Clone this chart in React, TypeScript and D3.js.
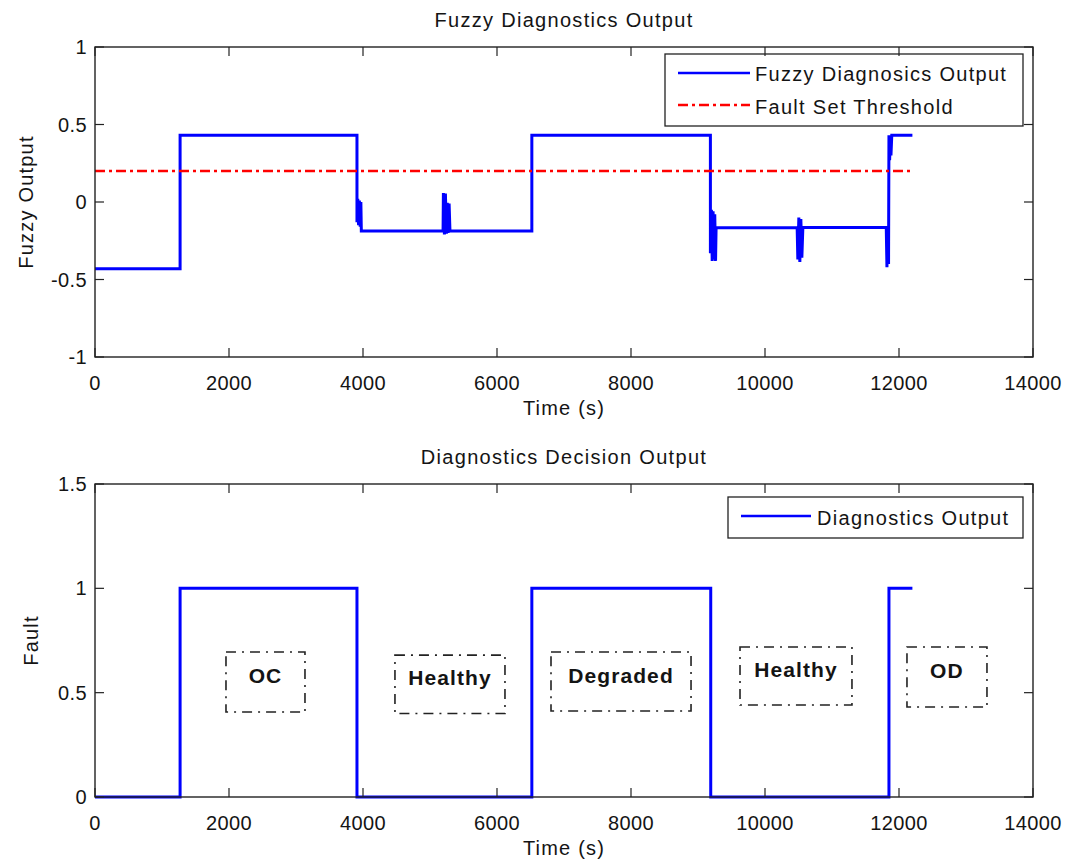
import React from 'react';
import * as d3 from 'd3';

// Fuzzy diagnostics output: time (s) and value, including the chattering bursts at each switch
const fuzzyTime = [
  0, 1270, 1270, 3910, 3910, 3922, 3934, 3946, 3958, 3968, 3975,
  5195, 5200, 5215, 5230, 5245, 5258, 5270, 5285, 5298,
  6520, 6520, 9185, 9185, 9200, 9212, 9225, 9238, 9250, 9262, 9270,
  10480, 10490, 10505, 10520, 10535, 10550, 10565,
  11810, 11820, 11832, 11844, 11850, 11860, 11872, 11880, 11892, 12200,
];
const fuzzyValue = [
  -0.43, -0.43, 0.43, 0.43, -0.13, 0.02, -0.15, 0.01, -0.16, 0.0, -0.187,
  -0.187, 0.058, -0.21, 0.055, -0.205, -0.005, -0.2, -0.01, -0.187,
  -0.187, 0.43, 0.43, -0.33, -0.05, -0.38, -0.06, -0.37, -0.08, -0.38, -0.166,
  -0.166, -0.37, -0.1, -0.387, -0.11, -0.36, -0.165,
  -0.165, -0.42, -0.2, -0.4, 0.43, 0.27, 0.43, 0.3, 0.43, 0.43,
];

// Fault set threshold
const thresholdTime = [0, 12200];
const thresholdValue = [0.2, 0.2];

// Diagnostics decision output (0 = healthy, 1 = fault)
const decisionTime = [0, 1270, 1270, 3910, 3910, 6520, 6520, 9190, 9190, 11850, 11850, 12200];
const decisionValue = [0, 0, 1, 1, 0, 0, 1, 1, 0, 0, 1, 1];

// Condition labels on the decision plot (time span and value span of each box)
const annotationLabels = ['OC', 'Healthy', 'Degraded', 'Healthy', 'OD'];
const annotationT0 = [1955, 4477, 6806, 9627, 12119];
const annotationT1 = [3134, 6119, 8896, 11298, 13313];
const annotationTop = [0.695, 0.68, 0.695, 0.719, 0.719];
const annotationBottom = [0.407, 0.4, 0.412, 0.441, 0.431];

// Axis ticks
const timeTicks = [0, 2000, 4000, 6000, 8000, 10000, 12000, 14000];
const fuzzyTicks = [-1, -0.5, 0, 0.5, 1];
const faultTicks = [0, 0.5, 1, 1.5];

const FONT = '"Liberation Sans", Arial, Helvetica, sans-serif';
const TEXT = '#141414';
const TICK = 9;

type Pt = [number, number];
const zip = (a: number[], b: number[]): Pt[] => a.map((v, i) => [v, b[i]]);

interface AxesProps {
  top: number;
  bottom: number;
  yDomain: [number, number];
  yTicks: number[];
  title: string;
  yLabel: string;
  yLabelX: number;
  children: (x: d3.ScaleLinear<number, number>, y: d3.ScaleLinear<number, number>) => React.ReactNode;
}

const LEFT = 95;
const RIGHT = 1033;

function Axes({ top, bottom, yDomain, yTicks, title, yLabel, yLabelX, children }: AxesProps) {
  const x = d3.scaleLinear().domain([0, 14000]).range([LEFT, RIGHT]);
  const y = d3.scaleLinear().domain(yDomain).range([bottom, top]);
  const cx = (LEFT + RIGHT) / 2;
  const fmt = (v: number) => String(v);
  return (
    <g>
      <rect x={LEFT} y={top} width={RIGHT - LEFT} height={bottom - top} fill="#fff" />
      {/* plot content */}
      {children(x, y)}
      {/* frame */}
      <rect x={LEFT} y={top} width={RIGHT - LEFT} height={bottom - top} fill="none" stroke="#222" strokeWidth={1.4} />
      {/* inward ticks on all four sides */}
      {timeTicks.map((t) => (
        <g key={'xt' + t}>
          <line x1={x(t)} x2={x(t)} y1={bottom} y2={bottom - TICK} stroke="#222" strokeWidth={1.2} />
          <line x1={x(t)} x2={x(t)} y1={top} y2={top + TICK} stroke="#222" strokeWidth={1.2} />
          <text x={x(t)} y={bottom + 33} textAnchor="middle" fontSize={20} fontFamily={FONT} fill={TEXT} letterSpacing={0.4}>
            {fmt(t)}
          </text>
        </g>
      ))}
      {yTicks.map((v) => (
        <g key={'yt' + v}>
          <line x1={LEFT} x2={LEFT + TICK} y1={y(v)} y2={y(v)} stroke="#222" strokeWidth={1.2} />
          <line x1={RIGHT} x2={RIGHT - TICK} y1={y(v)} y2={y(v)} stroke="#222" strokeWidth={1.2} />
          <text x={LEFT - 8} y={y(v) + 7} textAnchor="end" fontSize={20} fontFamily={FONT} fill={TEXT} letterSpacing={0.4}>
            {fmt(v)}
          </text>
        </g>
      ))}
      <text x={cx} y={top - 20} textAnchor="middle" fontSize={20} fontFamily={FONT} fill={TEXT} letterSpacing={1.3}>
        {title}
      </text>
      <text x={cx} y={bottom + 58} textAnchor="middle" fontSize={20} fontFamily={FONT} fill={TEXT} letterSpacing={1.2}>
        Time (s)
      </text>
      <text
        transform={`translate(${yLabelX},${(top + bottom) / 2}) rotate(-90)`}
        textAnchor="middle"
        fontSize={20}
        fontFamily={FONT}
        fill={TEXT}
        letterSpacing={1.2}
      >
        {yLabel}
      </text>
    </g>
  );
}

export default function App() {
  return (
    <svg width={1076} height={863} style={{ position: 'absolute', left: 0, top: 0, background: '#fff' }}>
      <rect width={1076} height={863} fill="#fff" />

      <Axes top={47} bottom={357} yDomain={[-1, 1]} yTicks={fuzzyTicks} title="Fuzzy Diagnostics Output" yLabel="Fuzzy Output" yLabelX={33}>
        {(x, y) => {
          const l = d3.line<Pt>().x((d) => x(d[0])).y((d) => y(d[1]));
          return (
            <g>
              <path d={l(zip(fuzzyTime, fuzzyValue)) || ''} fill="none" stroke="#0000ff" strokeWidth={3} strokeLinejoin="miter" />
              <path d={l(zip(thresholdTime, thresholdValue)) || ''} fill="none" stroke="#ff0000" strokeWidth={2.5} strokeDasharray="10,4,3,4" />
              {/* legend */}
              <rect x={665} y={54} width={358} height={72} fill="#fff" stroke="#222" strokeWidth={1.3} />
              <line x1={678} x2={750} y1={73} y2={73} stroke="#0000ff" strokeWidth={2.5} />
              <text x={755} y={81} fontSize={20} fontFamily={FONT} fill={TEXT} letterSpacing={1.3}>
                Fuzzy Diagnosics Output
              </text>
              <line x1={678} x2={750} y1={105} y2={105} stroke="#ff0000" strokeWidth={2.5} strokeDasharray="10,4,3,4" />
              <text x={755} y={114} fontSize={20} fontFamily={FONT} fill={TEXT} letterSpacing={1.3}>
                Fault Set Threshold
              </text>
            </g>
          );
        }}
      </Axes>

      <Axes top={484} bottom={797} yDomain={[0, 1.5]} yTicks={faultTicks} title="Diagnostics Decision Output" yLabel="Fault" yLabelX={38}>
        {(x, y) => {
          const l = d3.line<Pt>().x((d) => x(d[0])).y((d) => y(d[1]));
          return (
            <g>
              {annotationLabels.map((lab, i) => {
                const x0 = x(annotationT0[i]);
                const x1 = x(annotationT1[i]);
                const y0 = y(annotationTop[i]);
                const y1 = y(annotationBottom[i]);
                return (
                  <g key={'ann' + i}>
                    <rect x={x0} y={y0} width={x1 - x0} height={y1 - y0} fill="none" stroke="#222" strokeWidth={1.6} strokeDasharray="10,6,2,6" />
                    <text
                      x={(x0 + x1) / 2}
                      y={(y0 + y1) / 2 + 1}
                      textAnchor="middle"
                      fontSize={21}
                      fontWeight="bold"
                      fontFamily={FONT}
                      fill={TEXT}
                      letterSpacing={1.1}
                    >
                      {lab}
                    </text>
                  </g>
                );
              })}
              <path d={l(zip(decisionTime, decisionValue)) || ''} fill="none" stroke="#0000ff" strokeWidth={3} />
              {/* legend */}
              <rect x={728} y={497} width={295} height={41} fill="#fff" stroke="#222" strokeWidth={1.3} />
              <line x1={741} x2={811} y1={516} y2={516} stroke="#0000ff" strokeWidth={2.5} />
              <text x={817} y={525} fontSize={20} fontFamily={FONT} fill={TEXT} letterSpacing={1.3}>
                Diagnostics Output
              </text>
            </g>
          );
        }}
      </Axes>
    </svg>
  );
}
